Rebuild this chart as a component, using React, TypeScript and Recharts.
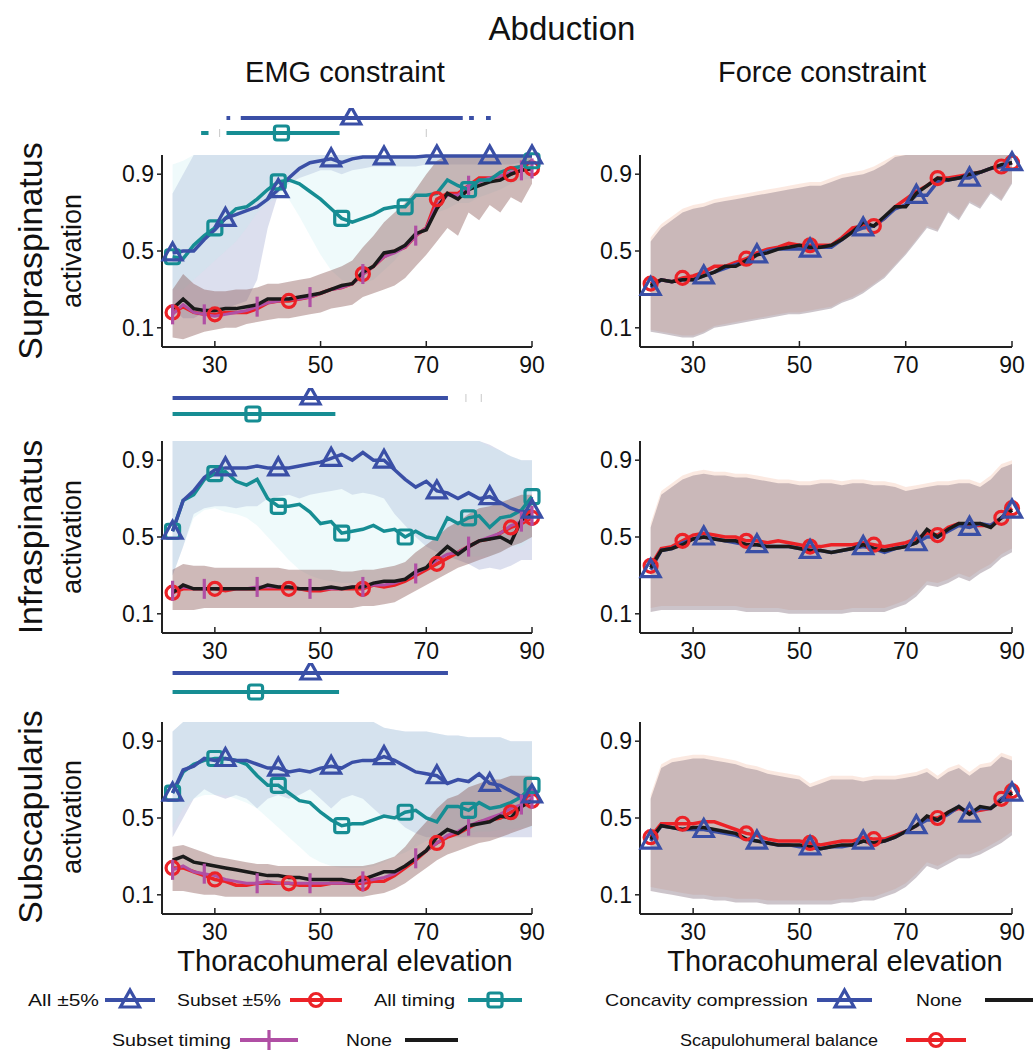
import React from 'react';
import { ComposedChart, Line, Area, XAxis, YAxis } from 'recharts';

// thoracohumeral elevation (deg), sampled every 2 degrees
const elevation = [22, 24, 26, 28, 30, 32, 34, 36, 38, 40, 42, 44, 46, 48, 50, 52, 54, 56, 58, 60, 62, 64, 66, 68, 70, 72, 74, 76, 78, 80, 82, 84, 86, 88, 90];
const xTicks = [30, 50, 70, 90];
const yTicks = [0.1, 0.5, 0.9];

// ---- Supraspinatus, EMG constraint
const supAll = [0.49, 0.50, 0.50, 0.56, 0.61, 0.67, 0.69, 0.71, 0.73, 0.77, 0.82, 0.88, 0.93, 0.96, 0.97, 0.98, 0.96, 0.98, 0.99, 0.99, 0.99, 0.99, 0.99, 0.99, 0.995, 0.995, 0.995, 0.995, 0.995, 0.995, 0.995, 0.995, 0.995, 0.995, 0.995];
const supTiming = [0.47, 0.46, 0.53, 0.58, 0.62, 0.67, 0.72, 0.73, 0.77, 0.82, 0.86, 0.87, 0.85, 0.81, 0.77, 0.72, 0.67, 0.65, 0.67, 0.69, 0.72, 0.73, 0.73, 0.79, 0.79, 0.80, 0.87, 0.84, 0.82, 0.87, 0.87, 0.91, 0.93, 0.94, 0.97];
const supNone = [0.20, 0.25, 0.20, 0.19, 0.19, 0.20, 0.20, 0.21, 0.22, 0.25, 0.25, 0.25, 0.26, 0.27, 0.28, 0.30, 0.32, 0.33, 0.39, 0.42, 0.49, 0.50, 0.53, 0.59, 0.61, 0.72, 0.80, 0.77, 0.82, 0.84, 0.86, 0.87, 0.90, 0.92, 0.93];
const supSubset = [0.18, 0.21, 0.18, 0.17, 0.17, 0.18, 0.18, 0.18, 0.20, 0.23, 0.24, 0.24, 0.25, 0.26, 0.28, 0.30, 0.31, 0.33, 0.38, 0.42, 0.47, 0.50, 0.52, 0.58, 0.62, 0.77, 0.80, 0.80, 0.84, 0.88, 0.88, 0.89, 0.90, 0.92, 0.93];
const supSubsetTiming = [0.17, 0.22, 0.18, 0.17, 0.16, 0.17, 0.18, 0.19, 0.21, 0.23, 0.24, 0.25, 0.25, 0.26, 0.28, 0.30, 0.31, 0.33, 0.38, 0.42, 0.47, 0.49, 0.52, 0.58, 0.62, 0.74, 0.79, 0.79, 0.84, 0.86, 0.88, 0.89, 0.91, 0.92, 0.93];
const supAllLo = [0.20, 0.15, 0.15, 0.18, 0.20, 0.20, 0.22, 0.24, 0.35, 0.62, 0.80, 0.85, 0.88, 0.90, 0.92, 0.92, 0.90, 0.92, 0.93, 0.94, 0.94, 0.94, 0.94, 0.94, 0.95, 0.95, 0.95, 0.95, 0.95, 0.95, 0.95, 0.95, 0.95, 0.96, 0.96];
const supAllHi = [0.80, 0.90, 1, 1, 1, 1, 1, 1, 1, 1, 1, 1, 1, 1, 1, 1, 1, 1, 1, 1, 1, 1, 1, 1, 1, 1, 1, 1, 1, 1, 1, 1, 1, 1, 1];
const supTimingLo = [0.30, 0.30, 0.35, 0.40, 0.45, 0.50, 0.55, 0.62, 0.70, 0.75, 0.78, 0.77, 0.68, 0.58, 0.48, 0.40, 0.35, 0.33, 0.33, 0.35, 0.40, 0.45, 0.52, 0.58, 0.64, 0.70, 0.72, 0.75, 0.75, 0.78, 0.80, 0.82, 0.85, 0.87, 0.88];
const supTimingHi = [0.95, 0.97, 1, 1, 1, 1, 1, 1, 1, 1, 1, 1, 1, 1, 1, 1, 1, 1, 1, 1, 1, 1, 1, 1, 1, 1, 1, 1, 1, 1, 1, 1, 1, 1, 1];
const supSubsetLo = [0.05, 0.04, 0.06, 0.08, 0.09, 0.10, 0.10, 0.12, 0.13, 0.14, 0.15, 0.15, 0.16, 0.17, 0.18, 0.20, 0.21, 0.22, 0.26, 0.28, 0.30, 0.32, 0.36, 0.42, 0.48, 0.55, 0.62, 0.58, 0.70, 0.66, 0.74, 0.70, 0.78, 0.75, 0.85];
const supSubsetHi = [0.30, 0.38, 0.33, 0.30, 0.29, 0.29, 0.30, 0.30, 0.31, 0.33, 0.33, 0.34, 0.35, 0.36, 0.38, 0.40, 0.42, 0.45, 0.52, 0.58, 0.65, 0.70, 0.75, 0.82, 0.90, 0.97, 1, 1, 1, 1, 1, 1, 1, 1, 1];

// ---- Infraspinatus, EMG constraint
const infAll = [0.53, 0.69, 0.74, 0.81, 0.85, 0.86, 0.86, 0.86, 0.87, 0.86, 0.86, 0.86, 0.87, 0.88, 0.89, 0.91, 0.93, 0.90, 0.94, 0.90, 0.90, 0.85, 0.80, 0.76, 0.79, 0.74, 0.73, 0.70, 0.73, 0.70, 0.71, 0.68, 0.65, 0.63, 0.64];
const infTiming = [0.53, 0.69, 0.72, 0.80, 0.83, 0.84, 0.79, 0.77, 0.80, 0.70, 0.66, 0.66, 0.67, 0.63, 0.57, 0.58, 0.52, 0.53, 0.54, 0.56, 0.53, 0.54, 0.50, 0.53, 0.50, 0.49, 0.60, 0.57, 0.60, 0.61, 0.55, 0.60, 0.61, 0.64, 0.71];
const infNone = [0.21, 0.25, 0.23, 0.23, 0.23, 0.23, 0.23, 0.23, 0.23, 0.25, 0.24, 0.24, 0.23, 0.23, 0.23, 0.24, 0.23, 0.24, 0.24, 0.26, 0.27, 0.27, 0.28, 0.32, 0.34, 0.40, 0.45, 0.41, 0.45, 0.48, 0.49, 0.50, 0.47, 0.59, 0.62];
const infSubset = [0.21, 0.23, 0.23, 0.23, 0.23, 0.22, 0.23, 0.23, 0.23, 0.23, 0.23, 0.23, 0.23, 0.22, 0.22, 0.23, 0.23, 0.23, 0.23, 0.25, 0.24, 0.25, 0.27, 0.30, 0.33, 0.36, 0.39, 0.42, 0.45, 0.48, 0.49, 0.52, 0.55, 0.57, 0.60];
const infSubsetTiming = [0.22, 0.24, 0.23, 0.23, 0.23, 0.23, 0.23, 0.23, 0.24, 0.24, 0.24, 0.24, 0.23, 0.23, 0.23, 0.23, 0.23, 0.24, 0.24, 0.25, 0.25, 0.26, 0.28, 0.31, 0.34, 0.38, 0.41, 0.42, 0.45, 0.48, 0.50, 0.52, 0.56, 0.58, 0.61];
const infAllLo = [0.30, 0.45, 0.62, 0.65, 0.66, 0.66, 0.65, 0.66, 0.66, 0.70, 0.71, 0.72, 0.70, 0.72, 0.73, 0.74, 0.75, 0.72, 0.73, 0.72, 0.70, 0.62, 0.56, 0.50, 0.45, 0.42, 0.40, 0.38, 0.36, 0.33, 0.34, 0.33, 0.35, 0.38, 0.38];
const infAllHi = [1, 1, 1, 1, 1, 1, 1, 1, 1, 1, 1, 1, 1, 1, 1, 1, 1, 1, 1, 1, 1, 1, 1, 1, 1, 1, 1, 1, 1, 1, 0.98, 0.95, 0.92, 0.90, 0.90];
const infTimingLo = [0.30, 0.45, 0.60, 0.64, 0.65, 0.63, 0.62, 0.60, 0.56, 0.50, 0.44, 0.38, 0.33, 0.30, 0.28, 0.27, 0.26, 0.26, 0.26, 0.26, 0.26, 0.26, 0.27, 0.30, 0.32, 0.35, 0.38, 0.40, 0.40, 0.40, 0.40, 0.42, 0.45, 0.45, 0.50];
const infTimingHi = [1, 1, 1, 1, 1, 1, 1, 1, 1, 1, 1, 1, 1, 1, 1, 1, 1, 1, 1, 1, 1, 1, 1, 1, 1, 1, 1, 1, 1, 1, 0.97, 0.95, 0.92, 0.90, 0.90];
const infSubsetLo = [0.12, 0.12, 0.12, 0.13, 0.13, 0.13, 0.13, 0.13, 0.13, 0.13, 0.13, 0.13, 0.13, 0.13, 0.13, 0.13, 0.13, 0.13, 0.14, 0.14, 0.15, 0.16, 0.19, 0.22, 0.25, 0.28, 0.31, 0.34, 0.36, 0.38, 0.40, 0.42, 0.45, 0.47, 0.50];
const infSubsetHi = [0.33, 0.36, 0.35, 0.35, 0.34, 0.34, 0.34, 0.34, 0.34, 0.34, 0.34, 0.33, 0.33, 0.33, 0.33, 0.33, 0.32, 0.32, 0.33, 0.33, 0.34, 0.35, 0.37, 0.42, 0.46, 0.50, 0.55, 0.58, 0.62, 0.65, 0.66, 0.68, 0.70, 0.72, 0.72];

// ---- Subscapularis, EMG constraint
const subAll = [0.63, 0.75, 0.77, 0.81, 0.80, 0.81, 0.80, 0.80, 0.78, 0.76, 0.76, 0.74, 0.75, 0.74, 0.76, 0.77, 0.76, 0.79, 0.80, 0.80, 0.82, 0.80, 0.77, 0.74, 0.73, 0.72, 0.68, 0.70, 0.69, 0.73, 0.68, 0.67, 0.64, 0.61, 0.62];
const subTiming = [0.63, 0.74, 0.78, 0.80, 0.81, 0.81, 0.80, 0.78, 0.72, 0.67, 0.67, 0.63, 0.59, 0.58, 0.53, 0.49, 0.46, 0.47, 0.47, 0.49, 0.51, 0.50, 0.53, 0.54, 0.50, 0.48, 0.56, 0.56, 0.54, 0.58, 0.55, 0.56, 0.58, 0.61, 0.67];
const subNone = [0.28, 0.30, 0.27, 0.26, 0.25, 0.24, 0.23, 0.22, 0.21, 0.20, 0.20, 0.19, 0.19, 0.18, 0.18, 0.18, 0.18, 0.17, 0.18, 0.20, 0.22, 0.22, 0.25, 0.29, 0.33, 0.40, 0.44, 0.42, 0.46, 0.47, 0.48, 0.51, 0.50, 0.56, 0.59];
const subSubset = [0.24, 0.24, 0.22, 0.20, 0.18, 0.17, 0.15, 0.15, 0.16, 0.16, 0.16, 0.16, 0.15, 0.15, 0.15, 0.16, 0.16, 0.16, 0.16, 0.17, 0.17, 0.20, 0.24, 0.28, 0.33, 0.37, 0.40, 0.42, 0.45, 0.48, 0.49, 0.50, 0.53, 0.56, 0.59];
const subSubsetTiming = [0.23, 0.25, 0.22, 0.21, 0.20, 0.18, 0.17, 0.16, 0.16, 0.17, 0.16, 0.16, 0.16, 0.16, 0.16, 0.16, 0.16, 0.16, 0.17, 0.18, 0.19, 0.21, 0.25, 0.29, 0.33, 0.37, 0.41, 0.43, 0.46, 0.48, 0.50, 0.52, 0.55, 0.57, 0.60];
const subAllLo = [0.40, 0.50, 0.60, 0.65, 0.62, 0.60, 0.62, 0.60, 0.55, 0.60, 0.62, 0.60, 0.62, 0.65, 0.60, 0.55, 0.60, 0.62, 0.60, 0.55, 0.50, 0.50, 0.45, 0.42, 0.40, 0.40, 0.40, 0.40, 0.40, 0.40, 0.40, 0.40, 0.40, 0.40, 0.40];
const subAllHi = [0.95, 1, 1, 1, 1, 1, 1, 1, 1, 1, 1, 1, 1, 1, 1, 1, 1, 1, 1, 1, 0.97, 0.96, 0.95, 0.95, 0.95, 0.94, 0.93, 0.93, 0.92, 0.92, 0.92, 0.92, 0.90, 0.90, 0.90];
const subTimingLo = [0.45, 0.55, 0.60, 0.62, 0.62, 0.62, 0.60, 0.58, 0.55, 0.50, 0.45, 0.40, 0.35, 0.30, 0.27, 0.25, 0.24, 0.24, 0.24, 0.25, 0.27, 0.30, 0.32, 0.35, 0.38, 0.40, 0.42, 0.42, 0.42, 0.43, 0.43, 0.44, 0.44, 0.45, 0.45];
const subTimingHi = [0.95, 1, 1, 1, 1, 1, 1, 1, 1, 1, 1, 1, 1, 1, 1, 1, 1, 1, 1, 1, 0.97, 0.96, 0.95, 0.95, 0.95, 0.94, 0.93, 0.93, 0.92, 0.92, 0.92, 0.92, 0.90, 0.90, 0.90];
const subSubsetLo = [0.12, 0.12, 0.11, 0.10, 0.10, 0.09, 0.09, 0.09, 0.09, 0.09, 0.09, 0.09, 0.09, 0.09, 0.09, 0.09, 0.09, 0.09, 0.09, 0.10, 0.11, 0.13, 0.16, 0.20, 0.24, 0.28, 0.31, 0.33, 0.35, 0.37, 0.38, 0.40, 0.42, 0.44, 0.46];
const subSubsetHi = [0.35, 0.36, 0.34, 0.32, 0.30, 0.29, 0.28, 0.27, 0.26, 0.26, 0.25, 0.25, 0.25, 0.25, 0.25, 0.25, 0.25, 0.25, 0.25, 0.26, 0.28, 0.30, 0.35, 0.42, 0.48, 0.55, 0.60, 0.62, 0.66, 0.68, 0.70, 0.70, 0.72, 0.72, 0.72];

// ---- Supraspinatus, force constraint
const supFNone = [0.32, 0.35, 0.34, 0.35, 0.35, 0.37, 0.39, 0.42, 0.42, 0.45, 0.48, 0.49, 0.51, 0.52, 0.53, 0.52, 0.52, 0.53, 0.56, 0.60, 0.65, 0.63, 0.68, 0.73, 0.73, 0.80, 0.84, 0.88, 0.87, 0.88, 0.90, 0.91, 0.93, 0.95, 0.96];
const supFShb = [0.33, 0.35, 0.34, 0.36, 0.37, 0.39, 0.42, 0.42, 0.44, 0.46, 0.49, 0.51, 0.52, 0.54, 0.53, 0.53, 0.53, 0.53, 0.57, 0.62, 0.63, 0.63, 0.67, 0.73, 0.77, 0.81, 0.84, 0.88, 0.88, 0.89, 0.90, 0.91, 0.93, 0.94, 0.96];
const supFCc = [0.31, 0.35, 0.34, 0.35, 0.35, 0.37, 0.39, 0.41, 0.43, 0.44, 0.48, 0.50, 0.51, 0.51, 0.51, 0.51, 0.52, 0.52, 0.56, 0.60, 0.62, 0.63, 0.67, 0.72, 0.74, 0.79, 0.79, 0.86, 0.87, 0.88, 0.88, 0.91, 0.93, 0.94, 0.96];
const supFShbLo = [0.09, 0.08, 0.07, 0.06, 0.06, 0.08, 0.11, 0.12, 0.13, 0.14, 0.15, 0.16, 0.17, 0.18, 0.18, 0.19, 0.20, 0.21, 0.24, 0.26, 0.29, 0.33, 0.37, 0.43, 0.49, 0.56, 0.63, 0.61, 0.71, 0.67, 0.76, 0.73, 0.81, 0.77, 0.86];
const supFShbHi = [0.57, 0.64, 0.68, 0.72, 0.74, 0.75, 0.77, 0.78, 0.79, 0.80, 0.81, 0.82, 0.83, 0.84, 0.85, 0.86, 0.86, 0.88, 0.90, 0.91, 0.92, 0.94, 0.97, 1, 1, 1, 1, 1, 1, 1, 1, 1, 1, 1, 1];
const supFCcLo = [0.08, 0.07, 0.06, 0.05, 0.05, 0.07, 0.10, 0.11, 0.12, 0.13, 0.14, 0.15, 0.16, 0.17, 0.17, 0.18, 0.19, 0.20, 0.23, 0.25, 0.28, 0.32, 0.36, 0.42, 0.48, 0.55, 0.62, 0.60, 0.70, 0.66, 0.75, 0.72, 0.80, 0.76, 0.85];
const supFCcHi = [0.55, 0.62, 0.66, 0.70, 0.72, 0.73, 0.75, 0.76, 0.77, 0.78, 0.79, 0.80, 0.81, 0.82, 0.83, 0.84, 0.84, 0.86, 0.88, 0.89, 0.90, 0.92, 0.95, 0.99, 1, 1, 1, 1, 1, 1, 1, 1, 1, 1, 1];

// ---- Infraspinatus, force constraint
const infFNone = [0.34, 0.43, 0.44, 0.46, 0.49, 0.50, 0.49, 0.48, 0.48, 0.46, 0.46, 0.45, 0.45, 0.45, 0.44, 0.43, 0.43, 0.42, 0.43, 0.44, 0.46, 0.44, 0.43, 0.44, 0.45, 0.47, 0.54, 0.50, 0.54, 0.57, 0.57, 0.57, 0.55, 0.60, 0.64];
const infFShb = [0.35, 0.44, 0.45, 0.48, 0.51, 0.52, 0.51, 0.50, 0.50, 0.48, 0.48, 0.47, 0.48, 0.47, 0.46, 0.45, 0.45, 0.46, 0.46, 0.46, 0.47, 0.46, 0.45, 0.46, 0.47, 0.49, 0.52, 0.51, 0.55, 0.57, 0.56, 0.56, 0.56, 0.60, 0.65];
const infFCc = [0.33, 0.43, 0.44, 0.47, 0.49, 0.50, 0.49, 0.48, 0.47, 0.46, 0.46, 0.45, 0.45, 0.45, 0.44, 0.43, 0.43, 0.42, 0.43, 0.44, 0.45, 0.44, 0.42, 0.44, 0.45, 0.47, 0.50, 0.50, 0.53, 0.56, 0.55, 0.57, 0.56, 0.60, 0.64];
const infFShbLo = [0.13, 0.14, 0.14, 0.14, 0.14, 0.14, 0.14, 0.14, 0.14, 0.13, 0.13, 0.13, 0.13, 0.12, 0.12, 0.12, 0.12, 0.12, 0.12, 0.13, 0.13, 0.13, 0.13, 0.15, 0.17, 0.21, 0.27, 0.26, 0.28, 0.31, 0.29, 0.33, 0.36, 0.41, 0.44];
const infFShbHi = [0.57, 0.74, 0.78, 0.82, 0.84, 0.85, 0.84, 0.84, 0.83, 0.83, 0.82, 0.81, 0.80, 0.80, 0.79, 0.79, 0.80, 0.80, 0.79, 0.80, 0.80, 0.79, 0.79, 0.78, 0.76, 0.77, 0.78, 0.79, 0.79, 0.80, 0.80, 0.78, 0.82, 0.88, 0.90];
const infFCcLo = [0.11, 0.12, 0.12, 0.12, 0.12, 0.12, 0.12, 0.12, 0.12, 0.11, 0.11, 0.11, 0.11, 0.10, 0.10, 0.10, 0.10, 0.10, 0.10, 0.11, 0.11, 0.11, 0.11, 0.13, 0.15, 0.19, 0.25, 0.24, 0.26, 0.29, 0.27, 0.31, 0.34, 0.39, 0.42];
const infFCcHi = [0.55, 0.72, 0.76, 0.80, 0.82, 0.83, 0.82, 0.82, 0.81, 0.81, 0.80, 0.79, 0.78, 0.78, 0.77, 0.77, 0.78, 0.78, 0.77, 0.78, 0.78, 0.77, 0.77, 0.76, 0.74, 0.75, 0.76, 0.77, 0.77, 0.78, 0.78, 0.76, 0.80, 0.86, 0.88];

// ---- Subscapularis, force constraint
const subFNone = [0.39, 0.46, 0.45, 0.44, 0.45, 0.45, 0.44, 0.43, 0.42, 0.39, 0.38, 0.37, 0.36, 0.36, 0.36, 0.35, 0.34, 0.35, 0.36, 0.36, 0.38, 0.37, 0.38, 0.40, 0.43, 0.46, 0.51, 0.49, 0.53, 0.56, 0.52, 0.56, 0.55, 0.59, 0.63];
const subFShb = [0.40, 0.47, 0.47, 0.47, 0.47, 0.48, 0.48, 0.46, 0.44, 0.42, 0.41, 0.39, 0.38, 0.38, 0.38, 0.37, 0.36, 0.37, 0.38, 0.38, 0.40, 0.39, 0.39, 0.41, 0.43, 0.46, 0.50, 0.50, 0.53, 0.55, 0.53, 0.54, 0.55, 0.60, 0.64];
const subFCc = [0.38, 0.46, 0.45, 0.44, 0.44, 0.44, 0.43, 0.42, 0.41, 0.39, 0.38, 0.37, 0.36, 0.36, 0.35, 0.35, 0.34, 0.35, 0.35, 0.36, 0.38, 0.37, 0.38, 0.40, 0.43, 0.46, 0.49, 0.49, 0.52, 0.56, 0.52, 0.55, 0.55, 0.60, 0.63];
const subFShbLo = [0.14, 0.13, 0.12, 0.11, 0.10, 0.10, 0.09, 0.09, 0.08, 0.08, 0.08, 0.07, 0.07, 0.07, 0.07, 0.07, 0.07, 0.07, 0.08, 0.08, 0.09, 0.09, 0.11, 0.13, 0.16, 0.21, 0.27, 0.25, 0.28, 0.31, 0.31, 0.33, 0.36, 0.39, 0.43];
const subFShbHi = [0.62, 0.78, 0.81, 0.82, 0.83, 0.83, 0.82, 0.81, 0.80, 0.78, 0.77, 0.75, 0.74, 0.73, 0.72, 0.68, 0.70, 0.72, 0.72, 0.72, 0.71, 0.72, 0.72, 0.72, 0.73, 0.74, 0.76, 0.72, 0.76, 0.78, 0.74, 0.78, 0.79, 0.84, 0.82];
const subFCcLo = [0.12, 0.11, 0.10, 0.09, 0.08, 0.08, 0.07, 0.07, 0.06, 0.06, 0.06, 0.05, 0.05, 0.05, 0.05, 0.05, 0.05, 0.05, 0.06, 0.06, 0.07, 0.07, 0.09, 0.11, 0.14, 0.19, 0.25, 0.23, 0.26, 0.29, 0.29, 0.31, 0.34, 0.37, 0.41];
const subFCcHi = [0.60, 0.76, 0.79, 0.80, 0.81, 0.81, 0.80, 0.79, 0.78, 0.76, 0.75, 0.73, 0.72, 0.71, 0.70, 0.66, 0.68, 0.70, 0.70, 0.70, 0.69, 0.70, 0.70, 0.70, 0.71, 0.72, 0.74, 0.70, 0.74, 0.76, 0.72, 0.76, 0.77, 0.82, 0.80];

// significance bars above the EMG panels: [start, end] in degrees
const supAllSig = [[32.2, 32.9], [34.9, 76.9], [78.1, 79.0], [81.3, 82.2]];
const supTimingSig = [[27.4, 28.8], [32.2, 53.6]];
const supSigMarks = [55.8, 42.6];
const supFaint = [30.9, 70];
const infAllSig = [[22, 74.1]];
const infTimingSig = [[22, 52.8]];
const infSigMarks = [48.1, 37.2];
const infFaint = [77.5, 80.4];
const subAllSig = [[22, 74.1]];
const subTimingSig = [[22, 53.5]];
const subSigMarks = [48.1, 37.7];

const BLUE = '#3a4fa6';
const TEAL = '#168d93';
const RED = '#ec2227';
const MAGENTA = '#b04fa4';
const BLACK = '#1a1a1a';
const FONT = '"Liberation Sans", Arial, Helvetica, sans-serif';

type Kind = 'tri' | 'circle' | 'square' | 'tick';

function Marker({ kind, cx, cy, color }: { kind: Kind; cx: number; cy: number; color: string }) {
  if (kind === 'tri')
    return <path d={`M${cx},${cy - 10} L${cx + 9.5},${cy + 7} L${cx - 9.5},${cy + 7} Z`} fill="none" stroke={color} strokeWidth={3.2} />;
  if (kind === 'circle') return <circle cx={cx} cy={cy} r={6.5} fill="none" stroke={color} strokeWidth={3.2} />;
  if (kind === 'square')
    return <rect x={cx - 7} y={cy - 7} width={14} height={14} rx={2.5} fill="none" stroke={color} strokeWidth={3.2} />;
  return <line x1={cx} x2={cx} y1={cy - 10} y2={cy + 10} stroke={color} strokeWidth={3.2} />;
}

const last = elevation.length - 1;
const makeDot = (kind: Kind, color: string, every: number, offset: number) => (props: any) => {
  const { cx, cy, index } = props;
  const show = index === 0 || index === last || (index >= offset && (index - offset) % every === 0);
  if (!show || cx == null || cy == null) return <g key={`n${index}`} />;
  return (
    <g key={`m${index}`}>
      <Marker kind={kind} cx={cx} cy={cy} color={color} />
    </g>
  );
};

const singleDot = (kind: Kind, color: string, dy = 0) => (props: any) => {
  const { cx, cy, index } = props;
  if (cx == null || cy == null) return <g key={`n${index}`} />;
  return (
    <g key={`s${index}`}>
      <Marker kind={kind} cx={cx} cy={cy + dy} color={color} />
    </g>
  );
};

const XTick = (props: any) => {
  const { x, y, payload } = props;
  return (
    <g>
      <line x1={x} x2={x} y1={y} y2={y - 6} stroke="#222" strokeWidth={1.5} />
      <text x={x} y={y + 26} textAnchor="middle" fontSize={23} fill="#111" fontFamily={FONT}>
        {payload.value}
      </text>
    </g>
  );
};

function emgRows(s: number[][]) {
  const [all, subset, timing, subsetTiming, none, allLo, allHi, tLo, tHi, sLo, sHi] = s;
  return elevation.map((x, i) => ({
    x,
    all: all[i],
    subset: subset[i],
    timing: timing[i],
    subsetTiming: subsetTiming[i],
    none: none[i],
    allBand: [allLo[i], allHi[i]],
    timingBand: [tLo[i], tHi[i]],
    subsetBand: [sLo[i], sHi[i]],
  }));
}

function forceRows(s: number[][]) {
  const [cc, shb, none, ccLo, ccHi, shbLo, shbHi] = s;
  return elevation.map((x, i) => ({
    x,
    cc: cc[i],
    shb: shb[i],
    none: none[i],
    ccBand: [ccLo[i], ccHi[i]],
    shbBand: [shbLo[i], shbHi[i]],
  }));
}

const supEmg = emgRows([supAll, supSubset, supTiming, supSubsetTiming, supNone, supAllLo, supAllHi, supTimingLo, supTimingHi, supSubsetLo, supSubsetHi]);
const infEmg = emgRows([infAll, infSubset, infTiming, infSubsetTiming, infNone, infAllLo, infAllHi, infTimingLo, infTimingHi, infSubsetLo, infSubsetHi]);
const subEmg = emgRows([subAll, subSubset, subTiming, subSubsetTiming, subNone, subAllLo, subAllHi, subTimingLo, subTimingHi, subSubsetLo, subSubsetHi]);
const supForce = forceRows([supFCc, supFShb, supFNone, supFCcLo, supFCcHi, supFShbLo, supFShbHi]);
const infForce = forceRows([infFCc, infFShb, infFNone, infFCcLo, infFCcHi, infFShbLo, infFShbHi]);
const subForce = forceRows([subFCc, subFShb, subFNone, subFCcLo, subFCcHi, subFShbLo, subFShbHi]);

const TOP_M = 14;
const PLOT_H = 192;
const X_H = 34;

function EmgChart({ rows, plotTop }: { rows: any[]; plotTop: number }) {
  return (
    <div style={{ position: 'absolute', left: 100, top: plotTop - TOP_M }}>
      <ComposedChart width={450} height={TOP_M + PLOT_H + X_H} data={rows} margin={{ top: TOP_M, right: 18, bottom: 0, left: 0 }}>
        <XAxis dataKey="x" type="number" domain={[20, 90]} ticks={xTicks} height={X_H} tickSize={0} tickMargin={0} tickLine={false}
          axisLine={{ stroke: '#222', strokeWidth: 2 }} tick={<XTick />} interval={0} />
        <YAxis type="number" domain={[0, 1]} ticks={yTicks} width={62} tickSize={5} tickMargin={3} interval={0}
          axisLine={{ stroke: '#222', strokeWidth: 2 }} tickLine={{ stroke: '#222', strokeWidth: 1.5 }}
          tick={{ fontSize: 23, fill: '#111', fontFamily: FONT }} tickFormatter={(v: number) => v.toFixed(1)} />
        <Area type="linear" dataKey="allBand" stroke="none" fill="#8c94c8" fillOpacity={0.3} isAnimationActive={false} activeDot={false} />
        <Area type="linear" dataKey="timingBand" stroke="none" fill="#bfeaf0" fillOpacity={0.25} isAnimationActive={false} activeDot={false} />
        <Area type="linear" dataKey="subsetBand" stroke="none" fill="#8a5856" fillOpacity={0.42} isAnimationActive={false} activeDot={false} />
        <Line type="linear" dataKey="subset" stroke={RED} strokeWidth={3.5} dot={makeDot('circle', RED, 7, 4)} activeDot={false} isAnimationActive={false} />
        <Line type="linear" dataKey="subsetTiming" stroke={MAGENTA} strokeWidth={3} dot={makeDot('tick', MAGENTA, 5, 3)} activeDot={false} isAnimationActive={false} />
        <Line type="linear" dataKey="none" stroke={BLACK} strokeWidth={3.5} dot={false} activeDot={false} isAnimationActive={false} />
        <Line type="linear" dataKey="timing" stroke={TEAL} strokeWidth={3.5} dot={makeDot('square', TEAL, 6, 4)} activeDot={false} isAnimationActive={false} />
        <Line type="linear" dataKey="all" stroke={BLUE} strokeWidth={3.5} dot={makeDot('tri', BLUE, 5, 5)} activeDot={false} isAnimationActive={false} />
      </ComposedChart>
    </div>
  );
}

function ForceChart({ rows, plotTop }: { rows: any[]; plotTop: number }) {
  return (
    <div style={{ position: 'absolute', left: 578, top: plotTop - TOP_M }}>
      <ComposedChart width={452} height={TOP_M + PLOT_H + X_H} data={rows} margin={{ top: TOP_M, right: 18, bottom: 0, left: 0 }}>
        <XAxis dataKey="x" type="number" domain={[20, 90]} ticks={xTicks} height={X_H} tickSize={0} tickMargin={0} tickLine={false}
          axisLine={{ stroke: '#222', strokeWidth: 2 }} tick={<XTick />} interval={0} />
        <YAxis type="number" domain={[0, 1]} ticks={yTicks} width={62} tickSize={5} tickMargin={3} interval={0}
          axisLine={{ stroke: '#222', strokeWidth: 2 }} tickLine={{ stroke: '#222', strokeWidth: 1.5 }}
          tick={{ fontSize: 23, fill: '#111', fontFamily: FONT }} tickFormatter={(v: number) => v.toFixed(1)} />
        <Area type="linear" dataKey="shbBand" stroke="none" fill="#f4c2ac" fillOpacity={0.36} isAnimationActive={false} activeDot={false} />
        <Area type="linear" dataKey="ccBand" stroke="none" fill="#8a7886" fillOpacity={0.44} isAnimationActive={false} activeDot={false} />
        <Line type="linear" dataKey="shb" stroke={RED} strokeWidth={3.5} dot={makeDot('circle', RED, 6, 3)} activeDot={false} isAnimationActive={false} />
        <Line type="linear" dataKey="cc" stroke={BLUE} strokeWidth={3.5} dot={makeDot('tri', BLUE, 5, 5)} activeDot={false} isAnimationActive={false} />
        <Line type="linear" dataKey="none" stroke={BLACK} strokeWidth={3.5} dot={false} activeDot={false} isAnimationActive={false} />
      </ComposedChart>
    </div>
  );
}

function SigBars({ top, gap, allSig, timingSig, marks, faint, faintRow }: {
  top: number; gap: number; allSig: number[][]; timingSig: number[][]; marks: number[]; faint?: number[]; faintRow?: number;
}) {
  const yA = 10;
  const yT = 10 + gap;
  const fy = faintRow === 0 ? yA : yT;
  return (
    <div style={{ position: 'absolute', left: 100, top: top - 10 }}>
      <ComposedChart width={450} height={40} margin={{ top: 0, right: 18, bottom: 0, left: 62 }}>
        <XAxis dataKey="x" type="number" domain={[20, 90]} hide allowDataOverflow />
        <YAxis dataKey="v" type="number" domain={[0, 40]} reversed hide allowDataOverflow />
        {(faint || []).map((f, i) => (
          <Line key={`f${i}`} data={[{ x: f, v: fy - 4 }, { x: f, v: fy + 4 }]} dataKey="v" stroke="#c8c8c8" strokeWidth={1}
            dot={false} activeDot={false} isAnimationActive={false} />
        ))}
        {allSig.map(([a, b], i) => (
          <Line key={`a${i}`} data={[{ x: a, v: yA }, { x: b, v: yA }]} dataKey="v" stroke={BLUE} strokeWidth={4}
            dot={false} activeDot={false} isAnimationActive={false} />
        ))}
        {timingSig.map(([a, b], i) => (
          <Line key={`t${i}`} data={[{ x: a, v: yT }, { x: b, v: yT }]} dataKey="v" stroke={TEAL} strokeWidth={4}
            dot={false} activeDot={false} isAnimationActive={false} />
        ))}
        <Line data={[{ x: marks[0], v: yA }]} dataKey="v" stroke="none" dot={singleDot('tri', BLUE, -1)} activeDot={false} isAnimationActive={false} />
        <Line data={[{ x: marks[1], v: yT }]} dataKey="v" stroke="none" dot={singleDot('square', TEAL)} activeDot={false} isAnimationActive={false} />
      </ComposedChart>
    </div>
  );
}

function LegendItem({ end, y, label, w, kind, color, x1, x2 }: {
  end: number; y: number; label: string; w: number; kind?: Kind; color: string; x1: number; x2: number;
}) {
  return (
    <g>
      <text x={end} y={y + 6} textAnchor="end" fontSize={17} textLength={w} lengthAdjust="spacingAndGlyphs" fill="#111">
        {label}
      </text>
      <line x1={x1} x2={x2} y1={y} y2={y} stroke={color} strokeWidth={4} />
      {kind && <Marker kind={kind} cx={(x1 + x2) / 2} cy={y} color={color} />}
    </g>
  );
}

const rowLabels = [
  { name: 'Supraspinatus', cy: 251 },
  { name: 'Infraspinatus', cy: 537 },
  { name: 'Subscapularis', cy: 817 },
];

export default function App() {
  return (
    <div style={{ position: 'absolute', left: 0, top: 0, width: 1033, height: 1051, background: '#fff', overflow: 'hidden', fontFamily: FONT }}>
      <svg width={1033} height={1051} style={{ position: 'absolute', left: 0, top: 0 }} fontFamily={FONT}>
        <text x={562} y={28} textAnchor="middle" dominantBaseline="central" fontSize={33} fill="#111">Abduction</text>
        <text x={345} y={72} textAnchor="middle" dominantBaseline="central" fontSize={29} fill="#111">EMG constraint</text>
        <text x={822} y={72} textAnchor="middle" dominantBaseline="central" fontSize={29} fill="#111">Force constraint</text>
        {rowLabels.map((r) => (
          <g key={r.name}>
            <text x={30} y={r.cy} transform={`rotate(-90 30 ${r.cy})`} textAnchor="middle" dominantBaseline="central" fontSize={34} fill="#111">{r.name}</text>
            <text x={72} y={r.cy} transform={`rotate(-90 72 ${r.cy})`} textAnchor="middle" dominantBaseline="central" fontSize={27} fill="#111">activation</text>
          </g>
        ))}
        <text x={345} y={961} textAnchor="middle" dominantBaseline="central" fontSize={29} fill="#111">Thoracohumeral elevation</text>
        <text x={835} y={961} textAnchor="middle" dominantBaseline="central" fontSize={29} fill="#111">Thoracohumeral elevation</text>

        <LegendItem end={99} y={1000} label="All ±5%" w={71} kind="tri" color={BLUE} x1={105} x2={155} />
        <LegendItem end={281} y={1000} label="Subset ±5%" w={104} kind="circle" color={RED} x1={290} x2={342} />
        <LegendItem end={455} y={1000} label="All timing" w={81} kind="square" color={TEAL} x1={468} x2={522} />
        <LegendItem end={231} y={1040} label="Subset timing" w={119} kind="tick" color={MAGENTA} x1={240} x2={298} />
        <LegendItem end={392} y={1040} label="None" w={46} color={BLACK} x1={405} x2={458} />
        <LegendItem end={808} y={1000} label="Concavity compression" w={203} kind="tri" color={BLUE} x1={817} x2={872} />
        <LegendItem end={962} y={1000} label="None" w={46} color={BLACK} x1={985} x2={1033} />
        <LegendItem end={878} y={1040} label="Scapulohumeral balance" w={198} kind="circle" color={RED} x1={906} x2={966} />
      </svg>

      <SigBars top={118} gap={15} allSig={supAllSig} timingSig={supTimingSig} marks={supSigMarks} faint={supFaint} faintRow={1} />
      <SigBars top={398} gap={16} allSig={infAllSig} timingSig={infTimingSig} marks={infSigMarks} faint={infFaint} faintRow={0} />
      <SigBars top={673} gap={19} allSig={subAllSig} timingSig={subTimingSig} marks={subSigMarks} />

      <EmgChart rows={supEmg} plotTop={155} />
      <EmgChart rows={infEmg} plotTop={441} />
      <EmgChart rows={subEmg} plotTop={722} />
      <ForceChart rows={supForce} plotTop={155} />
      <ForceChart rows={infForce} plotTop={441} />
      <ForceChart rows={subForce} plotTop={722} />
    </div>
  );
}
